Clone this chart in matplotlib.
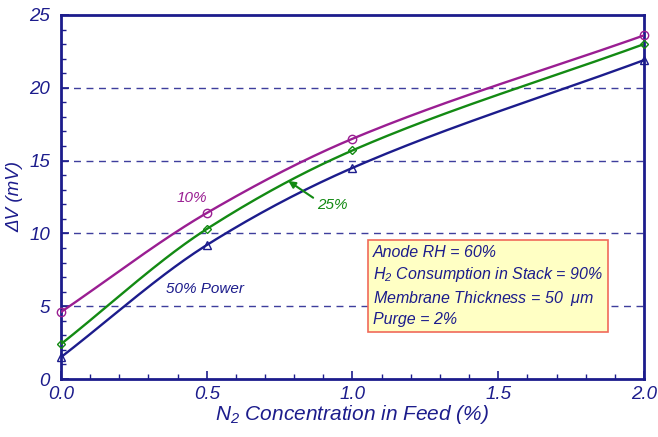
import numpy as np
import matplotlib
matplotlib.use("Agg")
import matplotlib.pyplot as plt
from matplotlib.ticker import MultipleLocator

# data
n2_conc = [0.0, 0.5, 1.0, 2.0]
dv_10 = [4.6, 11.4, 16.5, 23.6]
dv_25 = [2.4, 10.3, 15.7, 23.0]
dv_50 = [1.5, 9.2, 14.5, 21.9]

navy = "#1c1c8c"
purple = "#9a1e92"
green = "#138a13"

plt.rcParams['font.family'] = ['Liberation Sans', 'DejaVu Sans']
plt.rcParams['font.style'] = 'italic'
plt.rcParams['mathtext.fontset'] = 'custom'
plt.rcParams['mathtext.it'] = 'Liberation Sans:italic'
plt.rcParams['mathtext.rm'] = 'Liberation Sans:italic'


def smooth(x, y, n=60):
    # piecewise cubic hermite through the points, for drawing only
    x = np.asarray(x, float)
    y = np.asarray(y, float)
    sec = np.diff(y) / np.diff(x)
    d = np.empty_like(y)
    d[0] = sec[0]
    d[-1] = sec[-1]
    d[1:-1] = 2 / (1 / sec[:-1] + 1 / sec[1:])
    xs_all, ys_all = [], []
    for i in range(len(x) - 1):
        h = x[i + 1] - x[i]
        t = np.linspace(0, 1, n)
        h00 = 2 * t**3 - 3 * t**2 + 1
        h10 = t**3 - 2 * t**2 + t
        h01 = -2 * t**3 + 3 * t**2
        h11 = t**3 - t**2
        xs_all.append(x[i] + t * h)
        ys_all.append(h00 * y[i] + h10 * h * d[i] + h01 * y[i + 1] + h11 * h * d[i + 1])
    return np.concatenate(xs_all), np.concatenate(ys_all)


fig = plt.figure(figsize=(6.58, 4.37), dpi=100)
ax = fig.add_axes((0.0927, 0.1327, 0.886, 0.833))

for yg in [5, 10, 15, 20]:
    ax.axhline(yg, color=navy, ls=(0, (5, 4)), lw=1.0, alpha=0.85, zorder=1)

series = [(dv_10, purple, 'o', 6), (dv_25, green, 'D', 4.5), (dv_50, navy, '^', 5.5)]
for vals, col, mk, ms in series:
    xs, ys = smooth(n2_conc, vals)
    ax.plot(xs, ys, color=col, lw=1.7, zorder=3)
    ax.plot(n2_conc, vals, ls='none', marker=mk, ms=ms, mfc='none',
            mec=col, mew=1.0, zorder=4, clip_on=False)

ax.set_xlim(0, 2.0)
ax.set_ylim(0, 25)
ax.xaxis.set_major_locator(MultipleLocator(0.5))
ax.xaxis.set_minor_locator(MultipleLocator(0.1))
ax.yaxis.set_major_locator(MultipleLocator(5))
ax.yaxis.set_minor_locator(MultipleLocator(1))
ax.xaxis.set_major_formatter(plt.FuncFormatter(lambda v, p: "%.1f" % v))

for s in ax.spines.values():
    s.set_color(navy)
    s.set_linewidth(2.0)
ax.tick_params(which='both', direction='in', color=navy, labelcolor=navy,
               labelsize=13.5, top=False, right=False)
ax.tick_params(which='major', length=6, width=1.2)
ax.tick_params(axis='x', which='major', pad=5)
ax.tick_params(axis='y', which='major', pad=8)
ax.tick_params(which='minor', length=3.5, width=1.0)

ax.set_xlabel("N$_2$ Concentration in Feed (%)", color=navy, fontsize=15,
              labelpad=0)
ax.set_ylabel("ΔV (mV)", color=navy, fontsize=13.5, labelpad=4)

ax.text(0.45, 12.4, "10%", color=purple, fontsize=11, ha='center', va='center')
ax.text(0.36, 6.2, "50% Power", color=navy, fontsize=11, ha='left', va='center')
ax.text(0.93, 11.95, "25%", color=green, fontsize=11, ha='center', va='center')
ax.annotate("", xy=(0.78, 13.6), xytext=(0.865, 12.45),
            arrowprops=dict(arrowstyle='-|>', color=green, lw=1.5,
                            shrinkA=0, shrinkB=0, mutation_scale=10))

box_text = ("Anode RH = 60%\n"
            "H$_2$ Consumption in Stack = 90%\n"
            "Membrane Thickness = 50  $\\mu$m\n"
            "Purge = 2%")
ax.text(1.07, 6.4, box_text, color=navy, fontsize=11.5, ha='left', va='center',
        linespacing=1.35,
        bbox=dict(boxstyle='square,pad=0.3', fc='#ffffc4', ec='#f06a5a', lw=1.2))

fig.savefig("out.png", dpi=100)
